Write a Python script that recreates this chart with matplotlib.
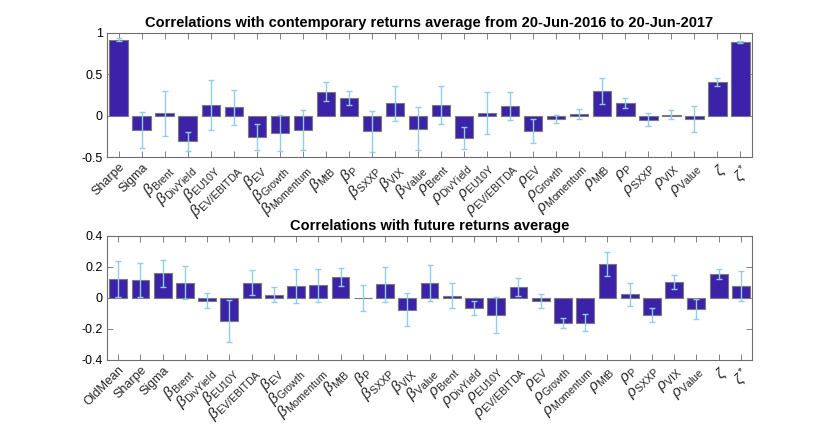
import numpy as np
import matplotlib
matplotlib.use('Agg')
import matplotlib.pyplot as plt

plt.rcParams['font.family'] = ['Liberation Sans', 'DejaVu Sans']
plt.rcParams['mathtext.fontset'] = 'custom'
plt.rcParams['mathtext.rm'] = 'Liberation Sans'
plt.rcParams['mathtext.it'] = 'Liberation Sans:italic'
plt.rcParams['axes.unicode_minus'] = False

factors = ['Brent', 'DivYield', 'EU10Y', 'EV/EBITDA', 'EV', 'Growth',
           'Momentum', 'MtB', 'P', 'SXXP', 'VIX', 'Value']

labels_top = (['Sharpe', 'Sigma']
              + [r'$\beta_{\mathrm{%s}}$' % f for f in factors]
              + [r'$\rho_{\mathrm{%s}}$' % f for f in factors]
              + [r'$\zeta$', r'$\zeta^*$'])
labels_bot = ['OldMean'] + labels_top

# contemporary returns (top)
vals_top = [0.92, -0.17, 0.03, -0.31, 0.13, 0.10, -0.26, -0.21, -0.17, 0.29,
            0.21, -0.19, 0.15, -0.16,
            0.13, -0.27, 0.03, 0.12, -0.19, -0.04, 0.02, 0.30, 0.15, -0.05,
            0.01, -0.04, 0.41, 0.89]
err_top = [0.02, 0.22, 0.27, 0.115, 0.30, 0.215, 0.155, 0.22, 0.24, 0.115,
           0.085, 0.25, 0.215, 0.26,
           0.225, 0.135, 0.255, 0.17, 0.145, 0.045, 0.06, 0.16, 0.06, 0.08,
           0.055, 0.155, 0.05, 0.015]

# future returns (bottom)
vals_bot = [0.123, 0.115, 0.16, 0.098, -0.017, -0.147, 0.098, 0.02, 0.077,
            0.081, 0.134, -0.002, 0.087, -0.077, 0.096,
            0.013, -0.064, -0.109, 0.072, -0.021, -0.16, -0.16, 0.217, 0.023,
            -0.11, 0.104, -0.07, 0.151, 0.077]
err_bot = [0.117, 0.109, 0.087, 0.105, 0.046, 0.135, 0.081, 0.048, 0.11,
           0.108, 0.06, 0.083, 0.115, 0.107, 0.117,
           0.081, 0.044, 0.117, 0.057, 0.045, 0.031, 0.056, 0.079, 0.074,
           0.044, 0.045, 0.064, 0.032, 0.099]

bar_color = '#3b22a8'
edge_color = '#7a7a7a'
err_line = '#92cdee'
err_cap = '#2e8fd6'
axis_color = '#6e6e6e'


def draw(ax, vals, errs, labels, ylim, yticks, yticklabels, title):
    x = np.arange(1, len(vals) + 1)
    ax.bar(x, vals, width=0.8, color=bar_color, edgecolor=edge_color,
           linewidth=0.8, zorder=2)
    line, caps, bars = ax.errorbar(x, vals, yerr=errs, fmt='none',
                                   ecolor=err_line, elinewidth=1.0,
                                   capsize=2.2, capthick=1.0, zorder=3)
    for c in caps:
        c.set_color(err_cap)
    ax.set_xlim(0.5, len(vals) + 0.5)
    ax.set_ylim(*ylim)
    ax.set_yticks(yticks)
    ax.set_yticklabels(yticklabels, fontsize=9)
    ax.set_xticks(x)
    ax.set_xticklabels(labels, rotation=45, ha='right', va='top',
                       rotation_mode='anchor', fontsize=9)
    for t in ax.get_xticklabels():
        if t.get_text().startswith('$'):
            t.set_fontsize(11)
    ax.tick_params(direction='in', top=True, right=True, length=4.5,
                   color=axis_color, width=0.6, pad=3)
    ax.tick_params(axis='x', colors='#262626', color=axis_color)
    for s in ax.spines.values():
        s.set_color(axis_color)
        s.set_linewidth(0.8)
    ax.set_title(title, fontsize=10.5, fontweight='bold', pad=4)


fig = plt.figure(figsize=(8.3, 4.28), dpi=100)
ax1 = fig.add_axes([0.129, 0.633, 0.777, 0.290])
ax2 = fig.add_axes([0.129, 0.159, 0.777, 0.290])

draw(ax1, vals_top, err_top, labels_top, (-0.5, 1.0),
     [-0.5, 0, 0.5, 1], ['-0.5', '0', '0.5', '1'],
     'Correlations with contemporary returns average from 20-Jun-2016 to 20-Jun-2017')
draw(ax2, vals_bot, err_bot, labels_bot, (-0.4, 0.4),
     [-0.4, -0.2, 0, 0.2, 0.4], ['-0.4', '-0.2', '0', '0.2', '0.4'],
     'Correlations with future returns average')

fig.savefig('out.png', dpi=100)
